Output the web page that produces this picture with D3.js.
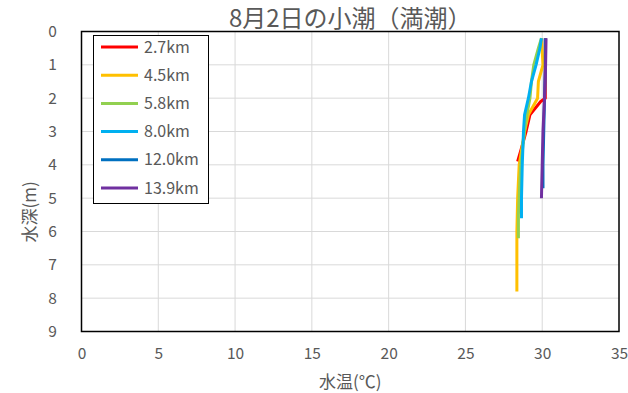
<!DOCTYPE html>
<html>
<head>
<meta charset="utf-8">
<script src="https://cdn.jsdelivr.net/npm/d3@7"></script>
<style>
  html, body { margin: 0; padding: 0; background: #ffffff; }
  svg { display: block; font-family: "Noto Sans CJK JP", "Noto Sans", sans-serif; }
</style>
</head>
<body>
<svg id="chart" width="628" height="393"></svg>
<script>
// Water temperature profiles by distance from the river mouth
const stations = ["2.7km", "4.5km", "5.8km", "8.0km", "12.0km", "13.9km"];
const stationColors = ["#FF0000", "#FFC000", "#92D050", "#00B0F0", "#0070C0", "#7030A0"];

// depth (m) and water temperature (°C) per station
const depth_2_7 = [0.2, 1.0, 2.0, 2.1, 2.5, 3.0, 3.5, 3.9];
const temp_2_7  = [30.2, 30.2, 30.2, 29.9, 29.2, 28.95, 28.65, 28.4];

const depth_4_5 = [0.2, 1.0, 1.5, 2.0, 2.5, 3.0, 4.0, 5.0, 6.0, 7.0, 7.8];
const temp_4_5  = [29.95, 30.05, 29.75, 29.7, 29.1, 28.85, 28.5, 28.4, 28.35, 28.35, 28.35];

const depth_5_8 = [0.2, 0.5, 1.0, 1.5, 2.0, 2.5, 3.0, 4.0, 5.0, 5.5, 6.2];
const temp_5_8  = [29.95, 29.75, 29.45, 29.3, 29.2, 29.0, 28.85, 28.6, 28.5, 28.45, 28.45];

const depth_8_0 = [0.2, 0.5, 1.0, 1.5, 2.0, 2.5, 3.0, 4.0, 5.0, 5.6];
const temp_8_0  = [29.95, 29.85, 29.6, 29.3, 29.1, 28.85, 28.78, 28.7, 28.65, 28.65];

const depth_12_0 = [0.2, 1.0, 2.0, 3.0, 4.0, 4.7];
const temp_12_0  = [30.2, 30.2, 30.15, 30.1, 30.05, 30.05];

const depth_13_9 = [0.2, 1.0, 2.0, 3.0, 4.0, 5.0];
const temp_13_9  = [30.25, 30.22, 30.15, 30.05, 30.0, 29.95];

const xTicks = [0, 5, 10, 15, 20, 25, 30, 35];
const yTicks = [0, 1, 2, 3, 4, 5, 6, 7, 8, 9];

const chartTitle = "8月2日の小潮（満潮）";
const xTitle = "水温(℃)";
const yTitle = "水深(m)";

const profiles = [
  [depth_2_7, temp_2_7],
  [depth_4_5, temp_4_5],
  [depth_5_8, temp_5_8],
  [depth_8_0, temp_8_0],
  [depth_12_0, temp_12_0],
  [depth_13_9, temp_13_9]
].map(([d, t], i) => ({
  name: stations[i],
  color: stationColors[i],
  points: d.map((dep, j) => ({ depth: dep, temp: t[j] }))
}));

const svg = d3.select("#chart");
const plot = { left: 81.5, right: 619, top: 31.5, bottom: 331.5 };

const x = d3.scaleLinear().domain([0, 35]).range([plot.left, plot.right]);
const y = d3.scaleLinear().domain([0, 9]).range([plot.top, plot.bottom]);

const textColor = "#595959";

// gridlines
svg.append("g").selectAll("line.v").data(xTicks.slice(1, -1)).join("line")
  .attr("x1", d => x(d)).attr("x2", d => x(d))
  .attr("y1", plot.top).attr("y2", plot.bottom)
  .attr("stroke", "#d9d9d9").attr("stroke-width", 1);
svg.append("g").selectAll("line.h").data(yTicks.slice(1, -1)).join("line")
  .attr("x1", plot.left).attr("x2", plot.right)
  .attr("y1", d => y(d)).attr("y2", d => y(d))
  .attr("stroke", "#d9d9d9").attr("stroke-width", 1);

// axes (labels only; frame drawn separately)
const xAxis = svg.append("g")
  .attr("transform", `translate(0,${plot.bottom})`)
  .call(d3.axisBottom(x).tickValues(xTicks).tickSize(0).tickPadding(16));
const yAxis = svg.append("g")
  .attr("transform", `translate(${plot.left},0)`)
  .call(d3.axisLeft(y).tickValues(yTicks).tickSize(0).tickPadding(24));
[xAxis, yAxis].forEach(g => {
  g.select(".domain").remove();
  g.selectAll("text")
    .attr("fill", textColor)
    .style("font-size", "15.5px")
    .style("font-family", "'Noto Sans CJK JP', sans-serif");
});
yAxis.selectAll("text").attr("text-anchor", "middle").attr("x", -29);

// profile lines
const line = d3.line()
  .x(d => x(d.temp))
  .y(d => y(d.depth));

svg.append("g").selectAll("path").data(profiles).join("path")
  .attr("d", d => line(d.points))
  .attr("fill", "none")
  .attr("stroke", d => d.color)
  .attr("stroke-width", 3)
  .attr("stroke-linejoin", "round");

// plot frame
svg.append("rect")
  .attr("x", plot.left).attr("y", plot.top)
  .attr("width", plot.right - plot.left).attr("height", plot.bottom - plot.top)
  .attr("fill", "none").attr("stroke", "#000").attr("stroke-width", 1.5);

// titles
svg.append("text")
  .attr("x", (plot.left + plot.right) / 2).attr("y", 27)
  .attr("text-anchor", "middle")
  .attr("fill", textColor)
  .style("font-size", "24px")
  .text(chartTitle);

svg.append("text")
  .attr("x", (plot.left + plot.right) / 2).attr("y", 388)
  .attr("text-anchor", "middle")
  .attr("fill", textColor)
  .style("font-size", "17px")
  .text(xTitle);

svg.append("text")
  .attr("transform", `translate(36,212) rotate(-90)`)
  .attr("text-anchor", "middle")
  .attr("fill", textColor)
  .style("font-size", "17px")
  .text(yTitle);

// legend
const legend = svg.append("g");
legend.append("rect")
  .attr("x", 93.5).attr("y", 35.5).attr("width", 115).attr("height", 168)
  .attr("fill", "#fff").attr("stroke", "#000").attr("stroke-width", 1);
const rows = legend.selectAll("g.row").data(profiles).join("g")
  .attr("transform", (d, i) => `translate(0,${47 + i * 28.2})`);
rows.append("line")
  .attr("x1", 101).attr("x2", 138).attr("y1", 0).attr("y2", 0)
  .attr("stroke", d => d.color).attr("stroke-width", 3);
rows.append("text")
  .attr("x", 144).attr("y", 0).attr("dy", "0.35em")
  .attr("fill", textColor)
  .style("font-size", "16px")
  .text(d => d.name);
</script>
</body>
</html>
